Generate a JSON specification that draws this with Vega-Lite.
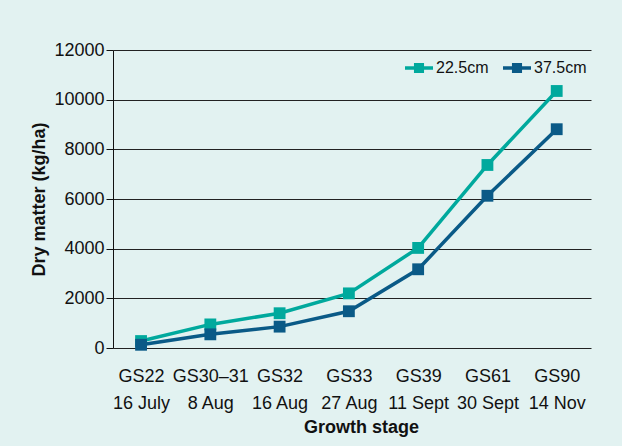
{
  "$schema": "https://vega.github.io/schema/vega-lite/v6.json",
  "width": 478,
  "height": 298,
  "autosize": {"type": "none"},
  "padding": {"left": 113, "top": 50, "right": 31, "bottom": 98},
  "background": "#e2f2f1",
  "config": {"view": {"stroke": null}, "font": "Liberation Sans"},
  "data": {
    "values": [
      {"stage": "GS22|16 July", "spacing": "22.5cm", "dm": 280},
      {"stage": "GS30–31|8 Aug", "spacing": "22.5cm", "dm": 950},
      {"stage": "GS32|16 Aug", "spacing": "22.5cm", "dm": 1400},
      {"stage": "GS33|27 Aug", "spacing": "22.5cm", "dm": 2200},
      {"stage": "GS39|11 Sept", "spacing": "22.5cm", "dm": 4030},
      {"stage": "GS61|30 Sept", "spacing": "22.5cm", "dm": 7370},
      {"stage": "GS90|14 Nov", "spacing": "22.5cm", "dm": 10350},
      {"stage": "GS22|16 July", "spacing": "37.5cm", "dm": 130},
      {"stage": "GS30–31|8 Aug", "spacing": "37.5cm", "dm": 550},
      {"stage": "GS32|16 Aug", "spacing": "37.5cm", "dm": 860},
      {"stage": "GS33|27 Aug", "spacing": "37.5cm", "dm": 1480},
      {"stage": "GS39|11 Sept", "spacing": "37.5cm", "dm": 3170},
      {"stage": "GS61|30 Sept", "spacing": "37.5cm", "dm": 6130},
      {"stage": "GS90|14 Nov", "spacing": "37.5cm", "dm": 8810}
    ]
  },
  "encoding": {
    "x": {
      "field": "stage",
      "type": "ordinal",
      "sort": null,
      "scale": {"type": "point", "padding": 0.45, "align": 0.45},
      "axis": {
        "title": "Growth stage",
        "titleFontSize": 18,
        "titleFontWeight": "bold",
        "titleColor": "#111",
        "titleX": 248,
        "titlePadding": 6,
        "labelExpr": "split(datum.label, '|')",
        "labelFontSize": 18,
        "labelLineHeight": 27,
        "labelColor": "#111",
        "labelAngle": 0,
        "labelPadding": 19,
        "ticks": false,
        "domain": false,
        "grid": false
      }
    },
    "y": {
      "field": "dm",
      "type": "quantitative",
      "scale": {"domain": [0, 12000], "nice": false},
      "axis": {
        "title": "Dry matter (kg/ha)",
        "titleFontSize": 18,
        "titleFontWeight": "bold",
        "titleColor": "#111",
        "titlePadding": 5,
        "values": [0, 2000, 4000, 6000, 8000, 10000, 12000],
        "format": "d",
        "labelFontSize": 18,
        "labelColor": "#111",
        "labelPadding": 2,
        "tickSize": 7,
        "tickColor": "#111",
        "domainColor": "#111",
        "grid": true,
        "gridColor": "#222",
        "gridOpacity": 1,
        "gridWidth": 1
      }
    }
  },
  "layer": [
    {
      "mark": {"type": "line", "strokeWidth": 3.5},
      "encoding": {
        "stroke": {
          "field": "spacing",
          "type": "nominal",
          "scale": {"domain": ["22.5cm", "37.5cm"], "range": ["#00a99d", "#0a5a87"]},
          "legend": null
        }
      }
    },
    {
      "mark": {"type": "point", "shape": "square", "filled": true, "size": 140, "opacity": 1},
      "encoding": {
        "color": {
          "field": "spacing",
          "type": "nominal",
          "scale": {"domain": ["22.5cm", "37.5cm"], "range": ["#00a99d", "#0a5a87"]},
          "legend": {
            "title": null,
            "orient": "none",
            "legendX": 292,
            "legendY": 4,
            "direction": "horizontal",
            "symbolType": "M-1,-0.12H-0.36V-0.36H0.36V-0.12H1V0.12H0.36V0.36H-0.36V0.12H-1Z",
            "symbolSize": 784,
            "symbolStrokeWidth": 0,
            "labelFontSize": 16,
            "labelColor": "#111",
            "labelOffset": 3,
            "columnPadding": 14
          }
        }
      }
    }
  ],
  "resolve": {"scale": {"color": "independent", "stroke": "independent"}}
}
